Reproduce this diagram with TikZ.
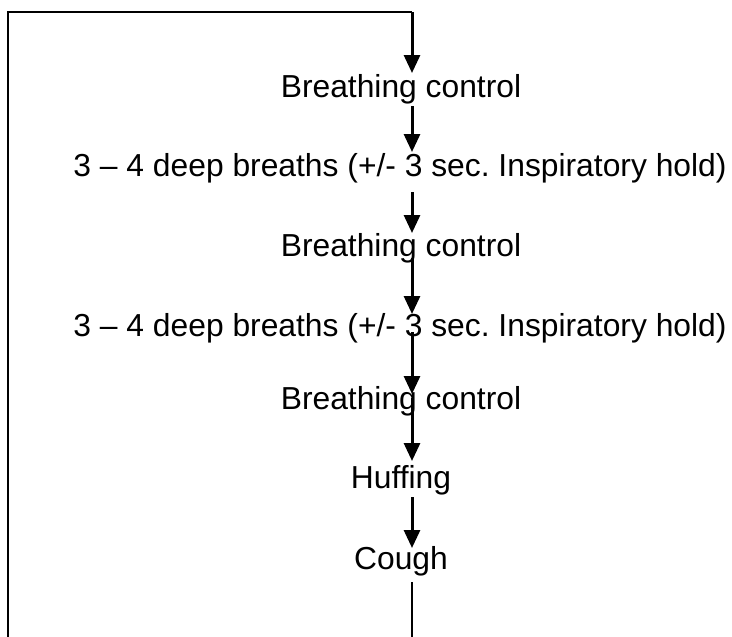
\documentclass[tikz,border=0pt]{standalone}
\usepackage{fontspec}
\setmainfont{Liberation Sans}
\usetikzlibrary{arrows.meta}
\frenchspacing
\begin{document}
\begin{tikzpicture}[x=1pt,y=-1pt,
  lbl/.style={anchor=base,inner sep=0pt,font=\fontsize{31.8}{38}\selectfont\frenchspacing},
  flow/.style={line width=3pt,-{Triangle[width=16pt,length=18pt]}},
  frame/.style={line width=2pt},
  tail/.style={line width=1.7pt}]
\useasboundingbox (0,0) rectangle (732,637);
\node[lbl] (t1) at (401,97) {Breathing control};
\node[lbl] (t2) at (400,176) {3 – 4 deep breaths (+/- 3 sec. Inspiratory hold)};
\node[lbl] (t3) at (401,256) {Breathing control};
\node[lbl] (t4) at (400,336) {3 – 4 deep breaths (+/- 3 sec. Inspiratory hold)};
\node[lbl] (t5) at (401,409) {Breathing control};
\node[lbl] (t6) at (401,488) {Huffing};
\node[lbl] (t7) at (401,569) {Cough};
\coordinate (bl) at (7.5,637);
\coordinate (tr) at (412,12);
\coordinate (e1) at (412,73);
\coordinate (s2) at (412,106);
\coordinate (e2) at (412,152);
\coordinate (s3) at (412,192);
\coordinate (e3) at (412,233);
\coordinate (s4) at (412,258);
\coordinate (e4) at (412,314);
\coordinate (s5) at (412,332);
\coordinate (e5) at (412,394);
\coordinate (s6) at (412,398);
\coordinate (e6) at (412,461);
\coordinate (s7) at (412,497);
\coordinate (e7) at (412,548);
\coordinate (s8) at (412,582);
\coordinate (e8) at (412,637);
\draw[frame] (bl) |- (tr);
\draw[flow] (tr) -- (e1);
\draw[flow] (s2) -- (e2);
\draw[flow] (s3) -- (e3);
\draw[flow] (s4) -- (e4);
\draw[flow] (s5) -- (e5);
\draw[flow] (s6) -- (e6);
\draw[flow] (s7) -- (e7);
\draw[tail] (s8) -- (e8);
\end{tikzpicture}
\end{document}
